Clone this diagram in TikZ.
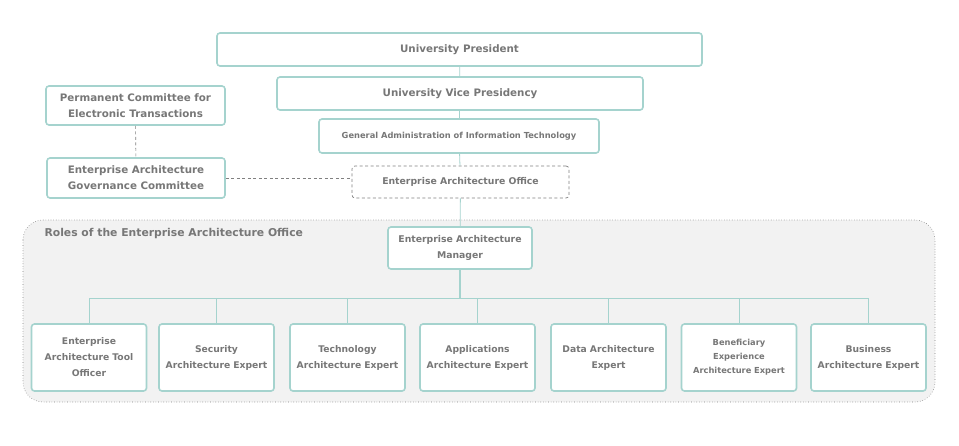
\documentclass[tikz,border=0pt]{standalone}
\usepackage{fontspec}
\setmainfont{DejaVu Sans}
\usepackage{xcolor}
\usetikzlibrary{positioning}
\definecolor{teal}{HTML}{A5D3CE}
\definecolor{txt}{HTML}{777777}
\definecolor{panel}{HTML}{F2F2F2}
\definecolor{dash}{HTML}{808080}
\begin{document}
\begin{tikzpicture}[x=1pt,y=-1pt,
  box/.style={draw=teal,line width=1.6pt,rounded corners=3pt,fill=white,
    text=txt,font=\bfseries\fontsize{10.3}{16}\selectfont,align=center,inner sep=0pt},
  role/.style={box,minimum width=115pt,minimum height=67pt,text width=112pt,
    font=\bfseries\fontsize{9.2}{16}\selectfont},
  link/.style={draw=teal,line width=0.8pt},
  dlink/.style={draw=dash,line width=0.6pt,dash pattern=on 3pt off 2.5pt}]
  \useasboundingbox (0,0) rectangle (959,445);
  % roles panel
  \draw[fill=panel,draw=dash,line width=0.6pt,dotted,rounded corners=20pt] (23,220) rectangle (935,402);
  \node[anchor=west,text=txt,font=\bfseries\fontsize{10.8}{12}\selectfont] (title) at (41,234) {Roles of the Enterprise Architecture Office};
  % top of the hierarchy
  \node[box,minimum width=485pt,minimum height=33pt] (pres) at (459.5,49.5) {University President};
  \node[box,minimum width=366pt,minimum height=33pt] (vice) at (460,93.5) {University Vice Presidency};
  \node[box,minimum width=280pt,minimum height=34pt,font=\bfseries\fontsize{8.3}{10}\selectfont] (gait) at (459,136) {General Administration of Information Technology};
  \node[box,draw=dash,line width=0.7pt,dash pattern=on 3pt off 2.5pt,minimum width=217pt,minimum height=32pt,font=\bfseries\fontsize{9.3}{10}\selectfont] (office) at (460.5,182) {Enterprise Architecture Office};
  \node[box,minimum width=179pt,minimum height=39pt] (pcet) at (135.5,105.5) {Permanent Committee for\\Electronic Transactions};
  \node[box,minimum width=178pt,minimum height=40pt] (eagc) at (136,178) {Enterprise Architecture\\Governance Committee};
  \node[box,minimum width=144pt,minimum height=42pt,font=\bfseries\fontsize{9.3}{16}\selectfont] (mgr) at (460,248) {Enterprise Architecture\\Manager};
  % roles
  \node[role] (r1) at (89,357.5) {Enterprise\\Architecture Tool\\Officer};
  \node[role] (r2) at (216.5,357.5) {Security\\Architecture Expert};
  \node[role] (r3) at (347.5,357.5) {Technology\\Architecture Expert};
  \node[role] (r4) at (477.5,357.5) {Applications\\Architecture Expert};
  \node[role] (r5) at (608.5,357.5) {Data Architecture\\Expert};
  \node[role,font=\bfseries\fontsize{8.3}{14}\selectfont] (r6) at (739,357.5) {Beneficiary\\Experience\\Architecture Expert};
  \node[role] (r7) at (868.5,357.5) {Business\\Architecture Expert};
  % connectors
  \draw[link] (pres) -- (vice);
  \draw[link] (vice) -- (gait);
  \draw[link] (gait) -- (office);
  \draw[link] (office) -- (mgr);
  \draw[dlink] (pcet) -- (eagc);
  \draw[dlink] (eagc.east) -- (eagc.east -| office.west);
  \coordinate (bus) at (460,298);
  \draw[link,line width=1.4pt] (mgr) -- (bus);
  \draw[link] (r1.north |- bus) -- (r7.north |- bus);
  \foreach \r in {r1,r2,r3,r4,r5,r6,r7}
    \draw[link] (\r.north |- bus) -- (\r.north);
\end{tikzpicture}
\end{document}
